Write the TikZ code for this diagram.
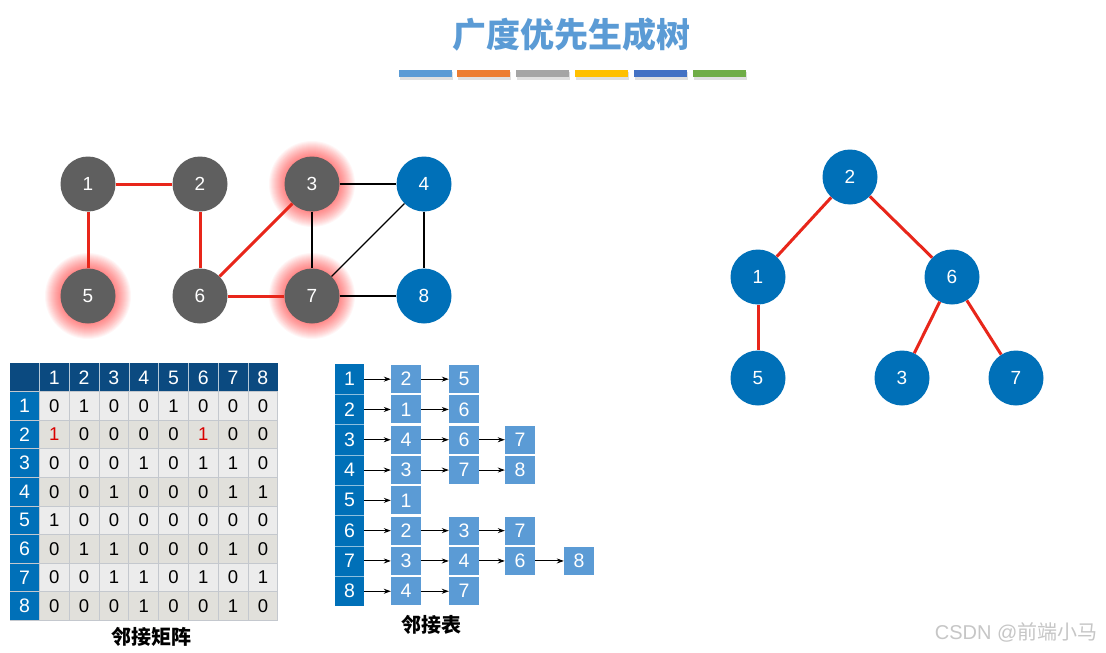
\documentclass[tikz,border=0pt]{standalone}
\usepackage{fontspec}
\setmainfont{Liberation Sans}
\newfontfamily\cjk{Noto Sans CJK SC}
\usetikzlibrary{arrows.meta}
\definecolor{gnode}{HTML}{5F5F5F}
\definecolor{bnode}{HTML}{0070B8}
\definecolor{redge}{HTML}{E8261A}
\definecolor{navy}{HTML}{0B4A80}
\definecolor{lblue}{HTML}{5B9BD5}
\definecolor{rowa}{HTML}{ECECEC}
\definecolor{rowb}{HTML}{E1E0DB}
\definecolor{gridc}{HTML}{C4C8CE}
\definecolor{cbar1}{HTML}{5B9BD5}
\definecolor{cbar2}{HTML}{ED7D31}
\definecolor{cbar3}{HTML}{A5A5A5}
\definecolor{cbar4}{HTML}{FFC000}
\definecolor{cbar5}{HTML}{4472C4}
\definecolor{cbar6}{HTML}{70AD47}
\definecolor{wm}{HTML}{C6C6C6}
\begin{document}
\begin{tikzpicture}[x=1pt,y=-1pt,
  vnode/.style={circle,minimum size=55pt,inner sep=0pt,text=white,font=\fontsize{19}{21}\selectfont},
  gv/.style={vnode,fill=gnode},
  bv/.style={vnode,fill=bnode},
  redline/.style={draw=redge,line width=3pt},
  blkline/.style={draw=black,line width=1.4pt},
  glow/.style={fill=red,opacity=0.035},
  mcell/.style={rectangle,minimum width=29.8pt,minimum height=28.5pt,inner sep=0pt,font=\fontsize{18.5}{20}\selectfont},
  hcell/.style={mcell,fill=navy,text=white,font=\fontsize{19.5}{21}\selectfont},
  lcellm/.style={mcell,fill=bnode,text=white,font=\fontsize{19.5}{21}\selectfont},
  lcell/.style={rectangle,minimum width=29pt,minimum height=30.3pt,inner sep=0pt,fill=bnode,text=white,font=\fontsize{19.5}{21}\selectfont},
  abox/.style={rectangle,minimum width=30pt,minimum height=28pt,inner sep=0pt,fill=lblue,text=white,font=\fontsize{19.5}{21}\selectfont},
  larrow/.style={draw=black,line width=1pt,-{Stealth[length=7pt,width=5pt]}},
  cjklabel/.style={font=\cjk\bfseries\fontsize{20}{22}\selectfont}]
\useasboundingbox (0,0) rectangle (1106,653);
\fill[white] (0,0) rectangle (1106,653);

% title
\node[text=lblue,font=\cjk\bfseries\fontsize{34}{38}\selectfont] (title) at (571,35) {广度优先生成树};
\foreach \c [count=\k] in {cbar1,cbar2,cbar3,cbar4,cbar5,cbar6}{
  \pgfmathsetmacro\bx{398.5+58.9*(\k-1)}
  \fill[black,opacity=0.12] (\bx+1,72) rectangle (\bx+54,79.5);
  \fill[\c] (\bx,70) rectangle (\bx+53,77);
}

% glow
\foreach \p in {(312,184),(88,296),(312,296)}{
  \foreach \r in {27,28,...,43}{
    \fill[glow] \p circle (\r pt);
  }
}

% left graph
\node[gv] (g1) at (88,184) {1};
\node[gv] (g2) at (200,184) {2};
\node[gv] (g3) at (312,184) {3};
\node[bv] (g4) at (424,184) {4};
\node[gv] (g5) at (88,296) {5};
\node[gv] (g6) at (200,296) {6};
\node[gv] (g7) at (312,296) {7};
\node[bv] (g8) at (424,296) {8};
\draw[redline] (g1) -- (g2);
\draw[redline] (g1) -- (g5);
\draw[redline] (g2) -- (g6);
\draw[redline] (g6) -- (g3);
\draw[redline] (g6) -- (g7);
\draw[blkline] (g3) -- (g4);
\draw[blkline] (g3) -- (g7);
\draw[blkline] (g4) -- (g7);
\draw[blkline] (g4) -- (g8);
\draw[blkline] (g7) -- (g8);

% tree
\node[bv] (t2) at (850,177) {2};
\node[bv] (t1) at (758,277) {1};
\node[bv] (t6) at (952,277) {6};
\node[bv] (t5) at (758,378) {5};
\node[bv] (t3) at (902,378) {3};
\node[bv] (t7) at (1016,378) {7};
\draw[redline] (t2) -- (t1);
\draw[redline] (t2) -- (t6);
\draw[redline] (t1) -- (t5);
\draw[redline] (t6) -- (t3);
\draw[redline] (t6) -- (t7);

% adjacency matrix
\node[hcell,minimum width=29.3pt] (m00) at (24.6,377.5) {};
\foreach \c in {1,...,8}{
  \node[hcell] (m0\c) at ({54.3+29.8*(\c-1)},377.5) {\c};
}
\foreach \r/\vals in {1/{0,1,0,0,1,0,0,0},2/{1,0,0,0,0,1,0,0},3/{0,0,0,1,0,1,1,0},4/{0,0,1,0,0,0,1,1},5/{1,0,0,0,0,0,0,0},6/{0,1,1,0,0,0,1,0},7/{0,0,1,1,0,1,0,1},8/{0,0,0,1,0,0,1,0}}{
  \pgfmathsetmacro\ry{406+28.55*(\r-1)}
  \pgfmathtruncatemacro\odd{mod(\r,2)}
  \node[lcellm,minimum width=29.3pt] (m\r0) at (24.6,\ry) {\r};
  \foreach \v [count=\c] in \vals{
    \ifnum\odd=1 \def\fc{rowa}\else\def\fc{rowb}\fi
    \def\tc{black}
    \ifnum\r=2 \ifnum\c=1 \def\tc{red!85!black}\fi \ifnum\c=6 \def\tc{red!85!black}\fi \fi
    \node[mcell,fill=\fc,text=\tc] (m\r\c) at ({54.3+29.8*(\c-1)},\ry) {\v};
  }
}
\foreach \c in {1,...,9}{
  \draw[gridc,line width=0.7pt] ({39.4+29.8*(\c-1)},392) -- ({39.4+29.8*(\c-1)},620);
}
\foreach \r in {1,...,9}{
  \draw[gridc,line width=0.7pt] (10,{391.7+28.55*(\r-1)}) -- (278,{391.7+28.55*(\r-1)});
}
\foreach \c in {1,...,8}{
  \draw[white!70!navy,line width=0.6pt] ({39.4+29.8*(\c-1)},363.3) -- ({39.4+29.8*(\c-1)},392);
}
\node[cjklabel] (mlabel) at (151,637) {邻接矩阵};

% adjacency list
\foreach \i/\lst in {1/{2,5},2/{1,6},3/{4,6,7},4/{3,7,8},5/{1},6/{2,3,7},7/{3,4,6,8},8/{4,7}}{
  \pgfmathsetmacro\ly{364+30.3*(\i-0.5)}
  \node[lcell] (L\i) at (349.5,\ly) {\i};
  \foreach \v [count=\k] in \lst{
    \pgfmathsetmacro\ax{{406,464,520,579}[\k-1]}
    \node[abox] (A\i-\k) at (\ax,\ly) {\v};
    \ifnum\k=1
      \draw[larrow] (L\i.east) -- (A\i-\k.west);
    \else
      \pgfmathtruncatemacro\pk{\k-1}
      \draw[larrow] (A\i-\pk.east) -- (A\i-\k.west);
    \fi
  }
}
\foreach \i in {1,...,7}{
  \draw[white!55!bnode,line width=0.6pt] (335,{364+30.3*\i}) -- (364,{364+30.3*\i});
}
\node[cjklabel] (alabel) at (431,625) {邻接表};

% watermark
\node[text=wm,font=\fontsize{20}{22}\selectfont,anchor=east] (wmark) at (1101,632) {CSDN @{\cjk 前端小马}};
\end{tikzpicture}
\end{document}
